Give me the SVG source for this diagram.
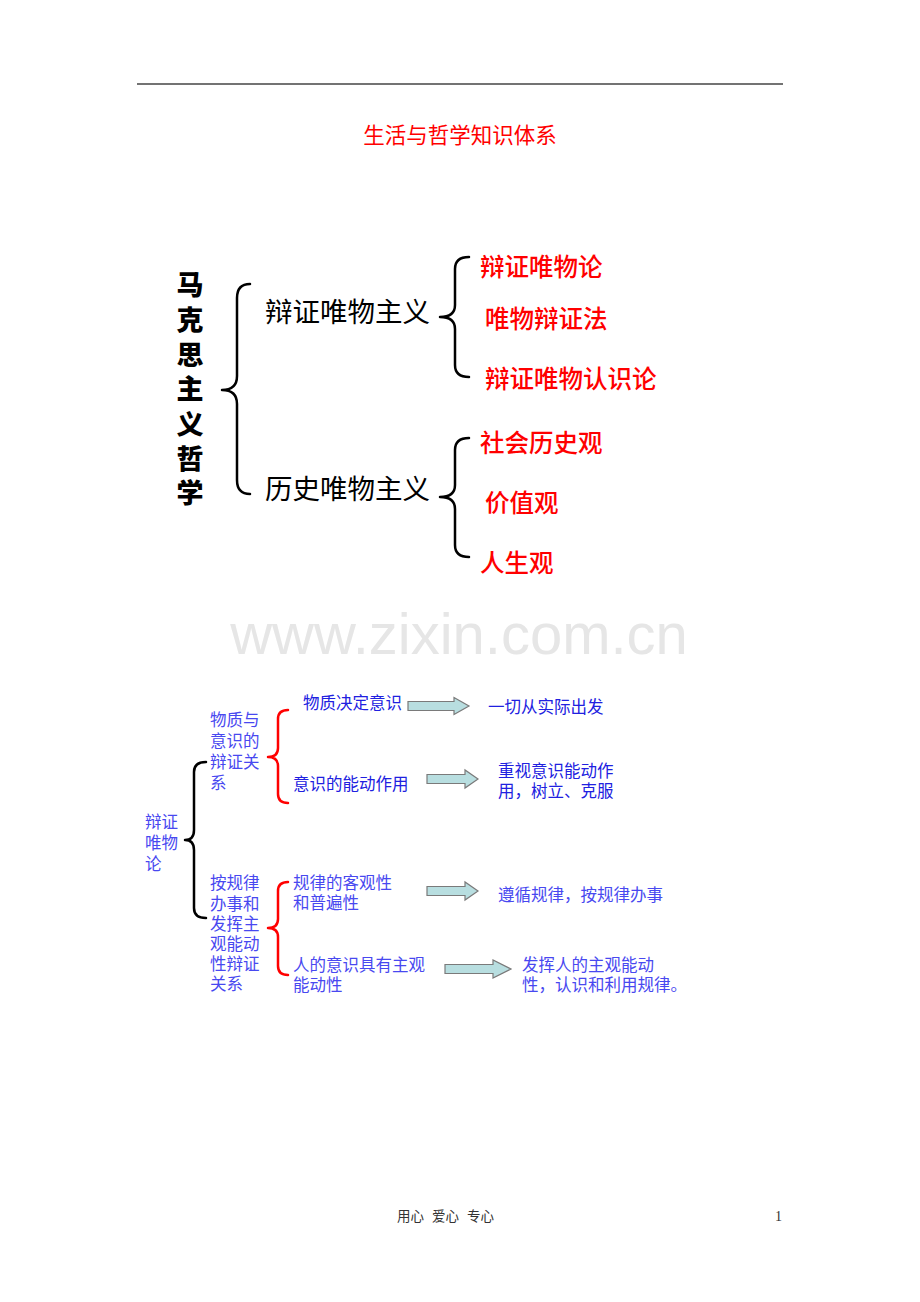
<svg xmlns="http://www.w3.org/2000/svg" width="920" height="1302" viewBox="0 0 920 1302">
<style>
.cjk{font-family:"Noto Sans CJK SC","Liberation Sans",sans-serif;}
.title{font-size:21.5px;fill:#ff0000;}
.vert{font-size:27px;font-weight:900;fill:#000;}
.mid{font-size:27.5px;fill:#000;}
.red{font-size:24.5px;fill:#ff0000;font-weight:500;}
.bd{font-size:16.5px;fill:#2020e0;}
.bl{font-size:16.5px;fill:#4848f0;}
.foot{font-size:13.5px;fill:#333;}
.brace{fill:none;stroke:#000;stroke-width:2.5;stroke-linecap:round;stroke-linejoin:round;}
.rbrace{fill:none;stroke:#ff0000;stroke-width:2.5;stroke-linecap:round;stroke-linejoin:round;}
.arrow{fill:#b8dee0;stroke:#7a7a7a;stroke-width:1.2;}
</style>
<rect width="920" height="1302" fill="#ffffff"/>
<line x1="137" y1="84" x2="783" y2="84" stroke="#444" stroke-width="1.6"/>
<text class="cjk title" x="460" y="143" text-anchor="middle">生活与哲学知识体系</text>

<g id="root">
<text class="cjk vert" x="190" text-anchor="middle"><tspan x="190" y="295">马</tspan><tspan x="190" y="330">克</tspan><tspan x="190" y="365">思</tspan><tspan x="190" y="399">主</tspan><tspan x="190" y="434">义</tspan><tspan x="190" y="469">哲</tspan><tspan x="190" y="503">学</tspan></text>
</g>
<g id="n-bzwwzy"><text class="cjk mid" x="265" y="322">辩证唯物主义</text></g>
<g id="n-lswwzy"><text class="cjk mid" x="265" y="499">历史唯物主义</text></g>
<g id="n-bzwwl"><text class="cjk red" x="480" y="276">辩证唯物论</text></g>
<g id="n-wwbzf"><text class="cjk red" x="485" y="328">唯物辩证法</text></g>
<g id="n-rsl"><text class="cjk red" x="485" y="388">辩证唯物认识论</text></g>
<g id="n-shlsg"><text class="cjk red" x="480" y="452">社会历史观</text></g>
<g id="n-jzg"><text class="cjk red" x="485" y="512">价值观</text></g>
<g id="n-rsg"><text class="cjk red" x="480" y="572">人生观</text></g>

<text x="459" y="654" text-anchor="middle" font-family="Liberation Sans, Arial, sans-serif" font-size="58" fill="#e6e6e6">www.zixin.com.cn</text>

<g id="n-low-root"><text class="cjk bl"><tspan x="145" y="828">辩证</tspan><tspan x="145" y="849">唯物</tspan><tspan x="145" y="870">论</tspan></text></g>
<g id="n-wzyys"><text class="cjk bl"><tspan x="210" y="726">物质与</tspan><tspan x="210" y="747">意识的</tspan><tspan x="210" y="768">辩证关</tspan><tspan x="210" y="789">系</tspan></text></g>
<g id="n-agl"><text class="cjk bl"><tspan x="210" y="889">按规律</tspan><tspan x="210" y="910">办事和</tspan><tspan x="210" y="930">发挥主</tspan><tspan x="210" y="950">观能动</tspan><tspan x="210" y="970">性辩证</tspan><tspan x="210" y="990">关系</tspan></text></g>
<g id="n-wzjd"><text class="cjk bd" x="303" y="709">物质决定意识</text></g>
<g id="n-yqcsj"><text class="cjk bd" x="488" y="713">一切从实际出发</text></g>
<g id="n-ysnd"><text class="cjk bd" x="293" y="790">意识的能动作用</text></g>
<g id="n-zsys"><text class="cjk bd"><tspan x="498" y="777">重视意识能动作</tspan><tspan x="498" y="797">用，树立、克服</tspan></text></g>
<g id="n-glkg"><text class="cjk bl"><tspan x="293" y="889">规律的客观性</tspan><tspan x="293" y="909">和普遍性</tspan></text></g>
<g id="n-zxgl"><text class="cjk bl" x="498" y="901">遵循规律，按规律办事</text></g>
<g id="n-rdys"><text class="cjk bl"><tspan x="293" y="971">人的意识具有主观</tspan><tspan x="293" y="991">能动性</tspan></text></g>
<g id="n-fhrd"><text class="cjk bl"><tspan x="522" y="971">发挥人的主观能动</tspan><tspan x="522" y="991">性，认识和利用规律。</tspan></text></g>

<g id="connectors">
<path class="brace" d="M250,284 Q237,284 237,298 L237,376 Q237,390 222,390 Q237,390 237,404 L237,480 Q237,494 250,494"/>
<path class="brace" d="M469,257 Q455,257 455,269 L455,305 Q455,317 440,317 Q455,317 455,329 L455,365 Q455,377 469,377"/>
<path class="brace" d="M469,438 Q455,438 455,450 L455,485 Q455,497 440,497 Q455,497 455,509 L455,545 Q455,557 469,557"/>
<path class="brace" d="M206,762 Q194,762 194,772 L194,830 Q194,840 185,840 Q194,840 194,850 L194,908 Q194,918 206,918"/>
<path class="rbrace" d="M288,710 Q278,710 278,719 L278,748 Q278,757 268,757 Q278,757 278,766 L278,794 Q278,803 288,803"/>
<path class="rbrace" d="M288,882 Q278,882 278,891 L278,919 Q278,928 268,928 Q278,928 278,937 L278,966 Q278,975 288,975"/>
<path class="arrow" d="M408,701.5 L454,701.5 L454,697.5 L469,706 L454,714.5 L454,710.5 L408,710.5 Z"/>
<path class="arrow" d="M427,774.5 L465,774.5 L465,770 L478,779 L465,788 L465,783.5 L427,783.5 Z"/>
<path class="arrow" d="M427,886.5 L465,886.5 L465,882 L478,891 L465,900 L465,895.5 L427,895.5 Z"/>
<path class="arrow" d="M445,964.5 L493,964.5 L493,960 L511,969 L493,978 L493,973.5 L445,973.5 Z"/>
</g>

<text class="cjk foot" x="397" y="1221">用心</text>
<text class="cjk foot" x="432" y="1221">爱心</text>
<text class="cjk foot" x="467" y="1221">专心</text>
<text x="775" y="1221" font-family="Liberation Serif, serif" font-size="14" fill="#333">1</text>
</svg>
